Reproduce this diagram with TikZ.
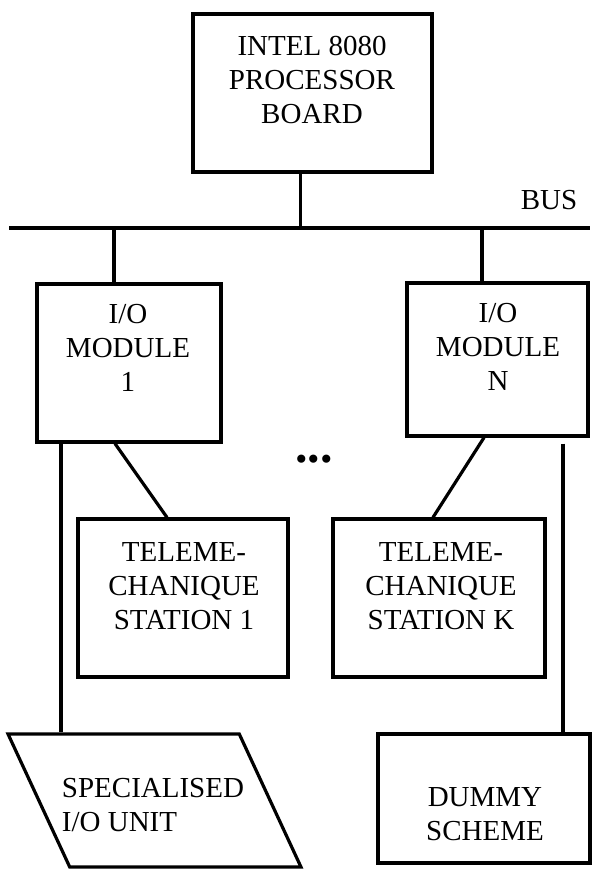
\documentclass[tikz,border=0pt]{standalone}
\usepackage{fontspec}
\setmainfont{Liberation Serif}
\usetikzlibrary{shapes.geometric}
\begin{document}
\begin{tikzpicture}[x=0.5pt,y=-0.5pt,
    every node/.style={font=\fontsize{14.5}{17}\selectfont},
    box/.style={draw,line width=1.6pt,minimum width=#1},
    txt/.style={align=center,inner sep=0pt},
    wire/.style={line width=1.6pt}]
    \useasboundingbox (0,0) rectangle (601,885);
    % boxes
    \node[box=119.5pt,minimum height=79pt] (proc) at (312.5,93) {};
    \node[box=92pt,minimum height=79pt] (io1) at (129,363) {};
    \node[box=90.5pt,minimum height=76.5pt] (ioN) at (497.5,359.5) {};
    \node[box=105pt,minimum height=79pt] (st1) at (183,598) {};
    \node[box=106pt,minimum height=79pt] (stK) at (439,598) {};
    \node[box=106pt,minimum height=64.5pt] (dummy) at (484,798.5) {};
    \node[draw,line width=1.6pt,trapezium,trapezium left angle=110,trapezium right angle=70,
          trapezium stretches,minimum width=146.5pt,minimum height=66.5pt] (spec) at (154.5,800.5) {};
    % texts
    \node[txt] (procT) at (312,80) {INTEL 8080\\PROCESSOR\\BOARD};
    \node[txt] (io1T) at (128,348) {I/O\\MODULE\\1};
    \node[txt] (ioNT) at (498,347) {I/O\\MODULE\\N};
    \node[txt] (st1T) at (184,586) {TELEME-\\CHANIQUE\\STATION 1};
    \node[txt] (stKT) at (441,586) {TELEME-\\CHANIQUE\\STATION K};
    \node[txt] (dummyT) at (485,814) {DUMMY\\SCHEME};
    \node[txt,align=left] (specT) at (153,805) {SPECIALISED\\I/O UNIT};
    \node[txt] (busT) at (549,200) {BUS};
    \node[txt,font=\fontsize{25}{25}\selectfont\bfseries] (dots) at (314,459) {...};
    % bus
    \coordinate (busL) at (9,228);
    \coordinate (busR) at (590,228);
    \draw[wire] (busL) -- (busR);
    \draw[wire] ([xshift=-6pt]proc.south) -- ([xshift=-6pt]proc.south |- busL);
    \draw[wire] ([xshift=-7.5pt]io1.north) -- ([xshift=-7.5pt]io1.north |- busL);
    \draw[wire] ([xshift=-7.75pt]ioN.north) -- ([xshift=-7.75pt]ioN.north |- busL);
    % modules to units
    \draw[wire] ([xshift=-7pt]io1.south) to ([xshift=-8pt]st1.north);
    \draw[wire] ([xshift=-6.75pt]ioN.south) to ([xshift=-3pt]stK.north);
    \draw[wire] ([xshift=-34pt]io1.south) to ([xshift=-34pt]io1.south |- spec.north);
    \draw[wire,shorten <=3pt] ([xshift=39.5pt]dummy.north |- ioN.south) to ([xshift=39.5pt]dummy.north);
\end{tikzpicture}
\end{document}
